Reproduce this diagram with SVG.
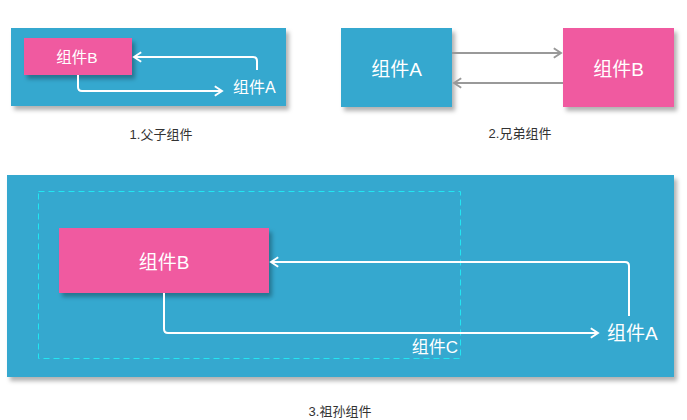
<svg xmlns="http://www.w3.org/2000/svg" width="687" height="420" viewBox="0 0 687 420">
<defs>
<style>
.blue{fill:#35a8cf}
.pink{fill:#f05aa0}
.wt{fill:#ffffff;font-family:"Liberation Sans","Noto Sans CJK SC",sans-serif}
.cap{fill:#333333;font-family:"Liberation Sans","Noto Sans CJK SC",sans-serif;font-size:13px;text-anchor:middle}
.wl{fill:none;stroke:#ffffff;stroke-width:2;stroke-linejoin:round}
.gl{fill:none;stroke:#999999;stroke-width:2}
</style>
<filter id="sh" x="-10%" y="-10%" width="130%" height="140%">
<feDropShadow dx="3" dy="4" stdDeviation="2" flood-color="#000" flood-opacity="0.3"/>
</filter>
<marker id="aw2" viewBox="0 0 10 10" refX="8" refY="5" markerWidth="12" markerHeight="12" orient="auto" markerUnits="userSpaceOnUse">
<path d="M2,1 L8,5 L2,9" fill="none" stroke="#ffffff" stroke-width="1.6"/>
</marker>
<marker id="ag" viewBox="0 0 10 10" refX="8" refY="5" markerWidth="12" markerHeight="12" orient="auto" markerUnits="userSpaceOnUse">
<path d="M2,1 L8,5 L2,9" fill="none" stroke="#999999" stroke-width="1.6"/>
</marker>
</defs>

<!-- Panel 1 -->
<g id="p1-container">
<rect class="blue" x="11" y="28" width="275" height="78" filter="url(#sh)"/>
</g>
<g id="p1-B">
<rect class="pink" x="24" y="38" width="108" height="37" filter="url(#sh)"/>
<text class="wt" x="77" y="63" font-size="15.5" text-anchor="middle">组件B</text>
</g>
<g id="p1-A">
<text class="wt" x="233" y="93" font-size="16">组件A</text>
</g>

<!-- Panel 2 -->
<g id="p2-A">
<rect class="blue" x="341" y="28" width="111" height="79" filter="url(#sh)"/>
<text class="wt" x="396.5" y="76" font-size="19" text-anchor="middle">组件A</text>
</g>
<g id="p2-B">
<rect class="pink" x="563" y="28" width="111" height="79" filter="url(#sh)"/>
<text class="wt" x="618.5" y="76" font-size="19" text-anchor="middle">组件B</text>
</g>

<!-- Panel 3 -->
<g id="p3-container">
<rect class="blue" x="7" y="175" width="667" height="202" filter="url(#sh)"/>
</g>
<g id="p3-C">
<rect x="38.5" y="191.5" width="422" height="167" fill="none" stroke="#22e6f2" stroke-width="1" stroke-dasharray="6,4"/>
<text class="wt" x="458" y="353" font-size="17" text-anchor="end">组件C</text>
</g>
<g id="p3-B">
<rect class="pink" x="59" y="228" width="210" height="65" filter="url(#sh)"/>
<text class="wt" x="164" y="269" font-size="19" text-anchor="middle">组件B</text>
</g>
<g id="p3-A">
<text class="wt" x="607" y="340" font-size="19">组件A</text>
</g>

<g id="connectors">
<path class="wl" d="M257,70 V61 Q257,57 253,57 H134" marker-end="url(#aw2)"/>
<path class="wl" d="M78,75 V87 Q78,91 82,91 H222" marker-end="url(#aw2)"/>
<path class="gl" d="M452,53 H561" marker-end="url(#ag)"/>
<path class="gl" d="M563,83 H454" marker-end="url(#ag)"/>
<path class="wl" d="M629,316 V266 Q629,262 625,262 H271" marker-end="url(#aw2)"/>
<path class="wl" d="M164,293 V329 Q164,333 168,333 H598" marker-end="url(#aw2)"/>
</g>

<g id="captions">
<text class="cap" x="161" y="139">1.父子组件</text>
<text class="cap" x="520" y="138">2.兄弟组件</text>
<text class="cap" x="340" y="416">3.祖孙组件</text>
</g>
</svg>
